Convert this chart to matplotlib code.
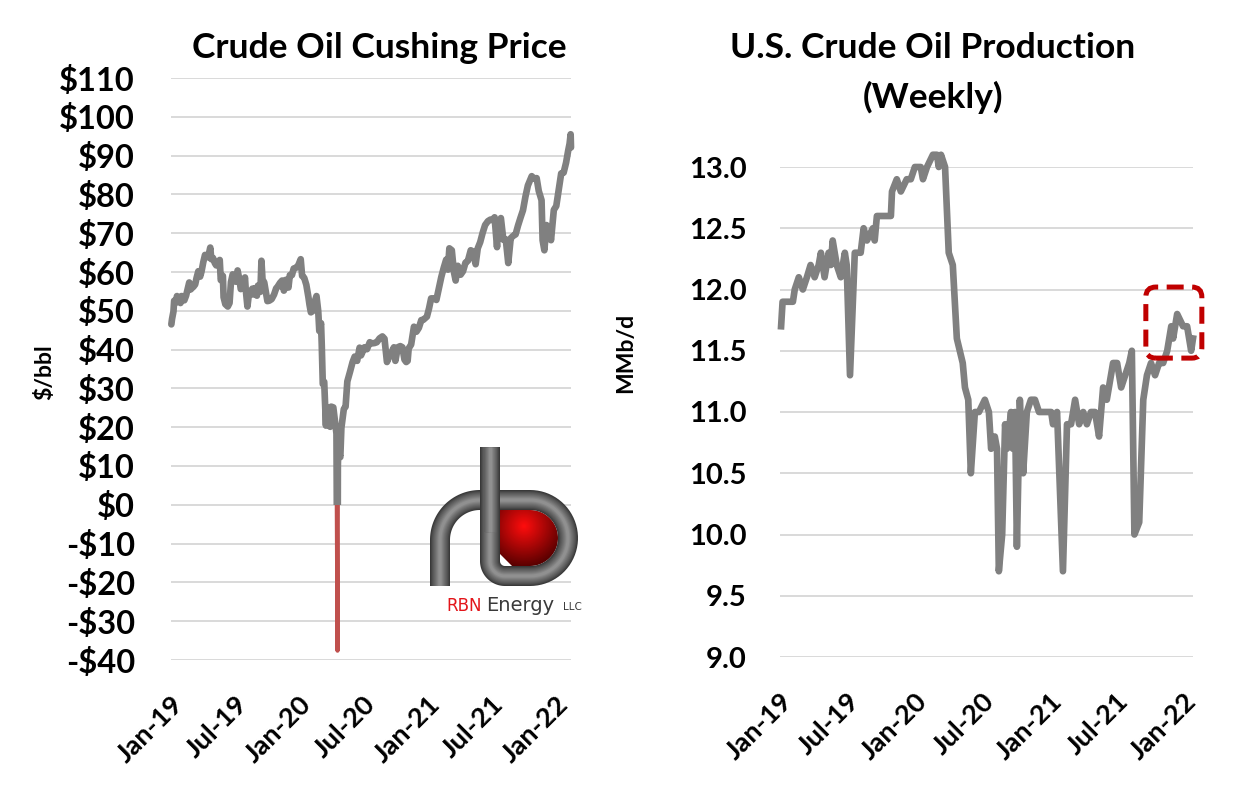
import matplotlib
matplotlib.use('Agg')
import matplotlib.pyplot as plt
import matplotlib.dates as mdates
import numpy as np
import pandas as pd
from matplotlib.patches import FancyBboxPatch, Rectangle, Polygon
from matplotlib.ticker import FuncFormatter, MultipleLocator

plt.rcParams['font.family'] = ['Lato', 'DejaVu Sans']

# Cushing WTI price, $/bbl
price_dates = [
    '2019-01-02', '2019-01-04', '2019-01-08', '2019-01-10', '2019-01-15', '2019-01-18', '2019-01-23',
    '2019-01-28', '2019-01-31', '2019-02-05', '2019-02-08', '2019-02-13', '2019-02-19', '2019-02-22',
    '2019-02-26', '2019-03-01', '2019-03-06', '2019-03-11', '2019-03-15', '2019-03-20', '2019-03-25',
    '2019-03-29', '2019-04-03', '2019-04-08', '2019-04-12', '2019-04-17', '2019-04-23', '2019-04-26',
    '2019-05-01', '2019-05-06', '2019-05-10', '2019-05-15', '2019-05-20', '2019-05-23', '2019-05-29',
    '2019-05-31', '2019-06-05', '2019-06-12', '2019-06-17', '2019-06-21', '2019-06-26', '2019-07-01',
    '2019-07-05', '2019-07-10', '2019-07-16', '2019-07-19', '2019-07-24', '2019-07-31', '2019-08-02',
    '2019-08-07', '2019-08-12', '2019-08-16', '2019-08-21', '2019-08-23', '2019-08-28', '2019-09-03',
    '2019-09-06', '2019-09-13', '2019-09-16', '2019-09-19', '2019-09-24', '2019-10-01', '2019-10-03',
    '2019-10-08', '2019-10-15', '2019-10-22', '2019-10-28', '2019-11-01', '2019-11-08', '2019-11-14',
    '2019-11-19', '2019-11-25', '2019-12-02', '2019-12-06', '2019-12-12', '2019-12-17', '2019-12-24',
    '2019-12-30', '2020-01-06', '2020-01-10', '2020-01-16', '2020-01-22', '2020-01-28', '2020-01-31',
    '2020-02-04', '2020-02-10', '2020-02-14', '2020-02-20', '2020-02-25', '2020-02-28', '2020-03-04',
    '2020-03-06', '2020-03-09', '2020-03-13', '2020-03-18', '2020-03-19', '2020-03-23', '2020-03-30',
    '2020-04-02', '2020-04-08', '2020-04-15', '2020-04-17', '2020-04-20', '2020-04-21', '2020-04-22',
    '2020-04-28', '2020-05-01', '2020-05-08', '2020-05-13', '2020-05-18', '2020-05-26', '2020-06-02',
    '2020-06-08', '2020-06-15', '2020-06-22', '2020-06-26', '2020-07-06', '2020-07-13', '2020-07-21',
    '2020-07-27', '2020-08-04', '2020-08-10', '2020-08-18', '2020-08-26', '2020-09-01', '2020-09-08',
    '2020-09-15', '2020-09-21', '2020-09-28', '2020-10-02', '2020-10-09', '2020-10-16', '2020-10-22',
    '2020-10-28', '2020-11-02', '2020-11-06', '2020-11-09', '2020-11-16', '2020-11-24', '2020-12-01',
    '2020-12-08', '2020-12-15', '2020-12-21', '2020-12-31', '2021-01-06', '2021-01-12', '2021-01-20',
    '2021-01-27', '2021-02-03', '2021-02-10', '2021-02-17', '2021-02-24', '2021-03-01', '2021-03-05',
    '2021-03-12', '2021-03-18', '2021-03-23', '2021-03-29', '2021-04-06', '2021-04-13', '2021-04-20',
    '2021-04-27', '2021-05-05', '2021-05-11', '2021-05-19', '2021-05-25', '2021-06-01', '2021-06-08',
    '2021-06-15', '2021-06-23', '2021-06-30', '2021-07-06', '2021-07-12', '2021-07-19', '2021-07-22',
    '2021-07-30', '2021-08-06', '2021-08-13', '2021-08-20', '2021-08-27', '2021-09-03', '2021-09-10',
    '2021-09-17', '2021-09-24', '2021-10-01', '2021-10-08', '2021-10-15', '2021-10-26', '2021-11-01',
    '2021-11-09', '2021-11-15', '2021-11-23', '2021-11-26', '2021-12-01', '2021-12-07', '2021-12-13',
    '2021-12-20', '2021-12-28', '2022-01-04', '2022-01-11', '2022-01-18', '2022-01-25', '2022-02-01',
    '2022-02-07', '2022-02-11', '2022-02-14', '2022-02-15',
]
price_values = [
    46.5, 47.9, 49.8, 52.6, 52.1, 53.8, 52.6,
    52.0, 53.8, 53.7, 52.7, 53.9, 56.1, 57.3,
    55.5, 55.8, 56.2, 56.8, 58.5, 60.2, 58.8,
    60.1, 62.5, 64.4, 63.9, 63.8, 66.3, 63.3,
    63.6, 62.3, 61.7, 62.0, 63.1, 57.9, 59.0,
    53.5, 51.7, 51.1, 52.0, 57.4, 59.4, 59.1,
    57.5, 60.4, 57.6, 55.6, 56.0, 58.6, 55.7,
    51.1, 54.9, 54.9, 55.7, 54.2, 55.8, 53.9,
    56.5, 54.9, 62.9, 58.1, 57.3, 53.6, 52.5,
    52.6, 53.0, 54.2, 55.8, 56.2, 57.2, 57.8,
    55.2, 58.0, 56.0, 59.2, 59.2, 60.9, 61.1,
    61.7, 63.3, 59.0, 58.5, 56.7, 53.5, 51.6,
    49.6, 50.0, 52.1, 53.8, 49.9, 44.8, 46.8,
    41.3, 31.1, 31.7, 20.4, 25.2, 23.4, 20.1,
    25.3, 25.1, 19.9, 18.3, -37.6, 10.0, 13.8,
    12.3, 19.8, 24.7, 25.3, 31.8, 34.4, 36.8,
    38.2, 37.1, 40.5, 38.5, 40.6, 40.1, 41.9,
    41.6, 41.7, 41.9, 42.9, 43.4, 42.8, 36.8,
    38.3, 39.3, 40.6, 37.1, 40.6, 40.9, 40.6,
    37.4, 36.8, 37.1, 40.3, 41.3, 45.9, 44.6,
    45.6, 47.6, 47.7, 48.5, 50.6, 53.2, 53.2,
    52.8, 55.7, 58.7, 61.1, 63.2, 60.6, 66.1,
    65.6, 60.0, 57.8, 61.6, 59.3, 60.2, 62.4,
    62.9, 65.6, 65.3, 62.0, 66.1, 67.7, 70.1,
    72.1, 73.1, 73.5, 73.4, 74.1, 66.4, 71.9,
    73.9, 68.3, 68.4, 62.3, 68.7, 69.3, 69.7,
    72.0, 74.0, 75.9, 79.4, 82.3, 84.7, 84.1,
    84.2, 80.9, 78.5, 68.2, 65.6, 72.1, 71.3,
    68.2, 76.0, 77.0, 81.2, 85.4, 85.6, 88.2,
    91.3, 93.1, 95.5, 92.1,
]

# U.S. weekly crude production, MMb/d
prod_dates = [
    '2019-01-04', '2019-01-08', '2019-02-05', '2019-02-10', '2019-02-21', '2019-03-04', '2019-03-15',
    '2019-03-25', '2019-04-05', '2019-04-16', '2019-04-22', '2019-05-02', '2019-05-13', '2019-05-19',
    '2019-05-24', '2019-06-04', '2019-06-15', '2019-06-26', '2019-07-01', '2019-07-10', '2019-07-23',
    '2019-08-08', '2019-08-16', '2019-08-25', '2019-09-10', '2019-09-15', '2019-09-21', '2019-10-29',
    '2019-11-01', '2019-11-14', '2019-11-25', '2019-12-11', '2019-12-22', '2020-01-02', '2020-01-18',
    '2020-01-24', '2020-02-04', '2020-02-20', '2020-03-02', '2020-03-07', '2020-03-13', '2020-03-24',
    '2020-04-03', '2020-04-14', '2020-04-25', '2020-05-11', '2020-05-17', '2020-05-26', '2020-06-02',
    '2020-06-13', '2020-06-24', '2020-07-10', '2020-07-21', '2020-07-27', '2020-08-06', '2020-08-12',
    '2020-08-17', '2020-08-26', '2020-09-03', '2020-09-08', '2020-09-19', '2020-09-24', '2020-09-30',
    '2020-10-05', '2020-10-13', '2020-10-22', '2020-11-01', '2020-11-12', '2020-11-23', '2020-12-04',
    '2021-01-06', '2021-01-11', '2021-01-22', '2021-02-07', '2021-02-18', '2021-03-01', '2021-03-12',
    '2021-03-23', '2021-04-03', '2021-04-13', '2021-04-24', '2021-05-05', '2021-05-16', '2021-05-27',
    '2021-06-06', '2021-06-23', '2021-07-04', '2021-07-15', '2021-07-26', '2021-08-06', '2021-08-13',
    '2021-08-20', '2021-09-02', '2021-09-13', '2021-09-23', '2021-10-04', '2021-10-15', '2021-10-26',
    '2021-11-06', '2021-11-17', '2021-11-28', '2021-12-03', '2021-12-14', '2021-12-30', '2022-01-10',
    '2022-01-21', '2022-01-26',
]
prod_values = [
    11.7, 11.9, 11.9, 12.0, 12.1, 12.0, 12.1,
    12.2, 12.1, 12.2, 12.3, 12.1, 12.3, 12.2,
    12.4, 12.2, 12.1, 12.3, 12.2, 11.3, 12.3,
    12.3, 12.5, 12.4, 12.5, 12.4, 12.6, 12.6,
    12.8, 12.9, 12.8, 12.9, 12.9, 13.0, 13.0,
    12.9, 13.0, 13.1, 13.1, 13.0, 13.1, 13.0,
    12.3, 12.2, 11.6, 11.4, 11.2, 11.1, 10.5,
    11.0, 11.0, 11.1, 11.0, 10.7, 10.8, 10.7,
    9.7, 10.0, 10.9, 10.7, 11.0, 10.7, 11.0,
    9.9, 11.1, 10.5, 11.0, 11.1, 11.1, 11.0,
    11.0, 10.9, 11.0, 9.7, 10.9, 10.9, 11.1,
    10.9, 11.0, 10.9, 11.0, 11.0, 10.8, 11.2,
    11.1, 11.4, 11.4, 11.2, 11.3, 11.4, 11.5,
    10.0, 10.1, 11.1, 11.3, 11.4, 11.3, 11.4,
    11.4, 11.5, 11.7, 11.6, 11.8, 11.7, 11.7,
    11.5, 11.6,
]

# highlight box around the latest weeks
box_start, box_end = '2021-09-20', '2022-02-19'
box_low, box_high = 11.44, 12.02

price_t = pd.to_datetime(price_dates)
prod_t = pd.to_datetime(prod_dates)

W, H = 1237, 798
fig = plt.figure(figsize=(W / 100, H / 100), dpi=100)
fig.patch.set_facecolor('white')

GRAY = '#808080'
GRID = '#d9d9d9'


def style_axis(ax, ypad, ysize):
    for s in ax.spines.values():
        s.set_visible(False)
    ax.yaxis.grid(True, color=GRID, linewidth=1.4)
    ax.set_axisbelow(True)
    ax.tick_params(length=0)
    ax.tick_params(axis='y', pad=ypad, labelsize=ysize)
    ax.xaxis.set_major_locator(mdates.MonthLocator(bymonth=[1, 7]))
    ax.xaxis.set_major_formatter(mdates.DateFormatter('%b-%y'))
    ax.tick_params(axis='x', pad=23, labelsize=19.5)
    for lab in ax.get_xticklabels():
        lab.set_rotation(45)
        lab.set_ha('right')
        lab.set_va('top')
        lab.set_rotation_mode('anchor')
        lab.set_fontweight('bold')
    for lab in ax.get_yticklabels():
        lab.set_fontweight('bold')


# ---- left: Cushing price
ax1 = fig.add_axes([171 / W, 1 - 660 / H, 400 / W, 582 / H])
x0 = pd.Timestamp('2019-01-01')
ax1.set_xlim(x0, price_t[-1])
ax1.set_ylim(-40, 110)
ax1.yaxis.set_major_locator(MultipleLocator(10))
ax1.yaxis.set_major_formatter(FuncFormatter(lambda v, p: f'-${-v:.0f}' if v < 0 else f'${v:.0f}'))
style_axis(ax1, 26, 23.5)

# gray above zero, red below zero
xa = mdates.date2num(x0) - 50
above = Rectangle((xa, 0), 2000, 200, transform=ax1.transData)
below = Rectangle((xa, -200), 2000, 200, transform=ax1.transData)
l_up, = ax1.plot(price_t, price_values, color=GRAY, lw=4.8, solid_joinstyle='round', solid_capstyle='round')
l_up.set_clip_path(above)
l_dn, = ax1.plot(price_t, price_values, color='#c0504d', lw=3.0, solid_joinstyle='round')
l_dn.set_clip_path(below)

fig.text(379 / W, 1 - 48 / H, 'Crude Oil Cushing Price', ha='center', va='center',
         fontsize=25.5, fontweight='bold')
fig.text(45 / W, 1 - 372 / H, '$/bbl', rotation=90, ha='center', va='center',
         fontsize=16.5, fontweight='bold')

# ---- right: production
ax2 = fig.add_axes([780 / W, 1 - 657 / H, 413 / W, 490 / H])
ax2.set_xlim(x0, prod_t[-1])
ax2.set_ylim(9.0, 13.0)
ax2.yaxis.set_major_locator(MultipleLocator(0.5))
ax2.yaxis.set_major_formatter(FuncFormatter(lambda v, p: f'{v:.1f}'))
style_axis(ax2, 24, 21)
ax2.plot(prod_t, prod_values, color=GRAY, lw=4.8, solid_joinstyle='round', clip_on=False)

bx0 = mdates.date2num(pd.Timestamp(box_start))
bx1 = mdates.date2num(pd.Timestamp(box_end))
px_x = (mdates.date2num(prod_t[-1]) - mdates.date2num(x0)) / 413.0
px_y = 4.0 / 490.0
box = FancyBboxPatch((bx0, box_low), bx1 - bx0, box_high - box_low,
                     boxstyle=f'round,pad=0,rounding_size={10 * px_x}',
                     mutation_aspect=px_y / px_x, fill=False, ec='#c00000',
                     lw=3.6, ls=(0, (3.4, 1.7)), clip_on=False, zorder=5)
ax2.add_patch(box)

fig.text(933 / W, 1 - 48 / H, 'U.S. Crude Oil Production', ha='center', va='center',
         fontsize=25.5, fontweight='bold')
fig.text(933 / W, 1 - 97 / H, '(Weekly)', ha='center', va='center',
         fontsize=25.5, fontweight='bold')
fig.text(626 / W, 1 - 353 / H, 'MMb/d', rotation=90, ha='center', va='center',
         fontsize=16.5, fontweight='bold')

# ---- RBN logo, drawn in pixel space
lg = fig.add_axes([0, 0, 1, 1], zorder=4)
lg.patch.set_alpha(0)


def arc(cx, cy, r, a0, a1, n=40):
    t = np.radians(np.linspace(a0, a1, n))
    return np.column_stack([cx + r * np.cos(t), cy + r * np.sin(t)])


inner = np.vstack([[[500, 510]], arc(530, 538, 28, 270, 450), [[512, 566], [500, 554]]])
gx, gy = np.meshgrid(np.linspace(495, 565, 120), np.linspace(505, 570, 120))
d = np.clip(np.hypot(gx - 524, gy - 526) / 42.0, 0, 1)[..., None]
rgb = (1 - d) * np.array([1.0, 0.05, 0.05]) + d * np.array([0.33, 0.0, 0.0])
im = lg.imshow(rgb, extent=(495, 565, 570, 505), interpolation='bilinear', zorder=2)
clip = Polygon(inner, closed=True, transform=lg.transData, fc='none', ec='none')
lg.add_patch(clip)
im.set_clip_path(clip)

pipe_a = np.vstack([[[440, 586], [440, 540]], arc(480, 540, 40, 180, 270), [[530, 500]],
                    arc(530, 538, 38, 270, 450), [[505, 576]], arc(505, 561, 15, 90, 180),
                    [[490, 520]]])
pipe_b = np.array([[490, 447], [490, 532]])
widths = np.linspace(20, 3, 9)
shades = [plt.cm.Greys_r(v) for v in np.linspace(0.18, 0.48, 9)]
for path in (pipe_a, pipe_b):
    for w, c in zip(widths, shades):
        lg.plot(path[:, 0], path[:, 1], color=c, lw=w * 0.72, solid_capstyle='butt',
                solid_joinstyle='round', zorder=3)

lg.text(446, 611, 'RBN', color='#e3151a', fontsize=12, family='DejaVu Sans', va='baseline')
lg.text(486, 611, 'Energy', color='#3a3a3a', fontsize=14, family='DejaVu Sans', va='baseline')
lg.text(563, 610, 'LLC', color='#3a3a3a', fontsize=7.5, family='DejaVu Sans', va='baseline')

lg.set_aspect('auto')
lg.set_xlim(0, W)
lg.set_ylim(H, 0)
lg.axis('off')

fig.savefig('out.png', dpi=100)
